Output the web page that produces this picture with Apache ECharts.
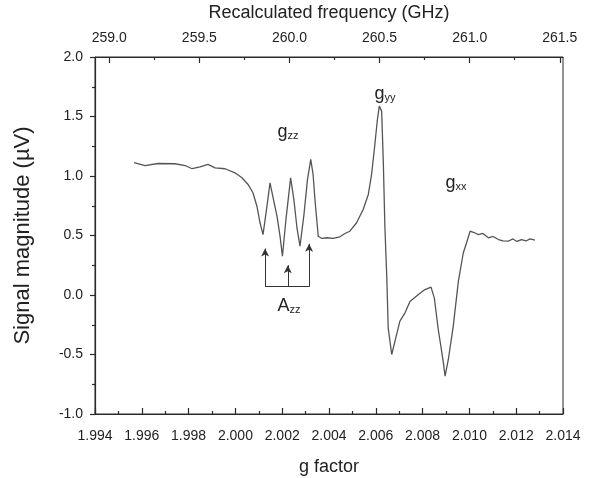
<!DOCTYPE html>
<html><head><meta charset="utf-8">
<script src="https://cdn.jsdelivr.net/npm/echarts@6/dist/echarts.min.js"></script>
<style>html,body{margin:0;padding:0;background:#fff}#c{width:603px;height:478px}</style>
</head><body><div id="c"></div>
<script>
// g factor (x) and signal (µV)
const gFactor = [1.99567,1.99614,1.99669,1.99742,1.99785,1.99815,1.99849,1.99883,1.99913,1.99956,1.99998,2.00028,2.00054,2.00075,2.00092,2.00105,2.00118,2.00133,2.00148,2.00163,2.00178,2.00191,2.00201,2.00216,2.00236,2.0025,2.00263,2.00276,2.00293,2.00308,2.00322,2.00332,2.0034,2.00354,2.0037,2.00391,2.00417,2.00447,2.00468,2.00489,2.00518,2.00546,2.00568,2.00582,2.00596,2.00606,2.00615,2.00625,2.00632,2.00639,2.00647,2.00653,2.00668,2.00682,2.00703,2.00725,2.00746,2.00782,2.0081,2.00836,2.0085,2.00867,2.00889,2.00896,2.0091,2.00931,2.00953,2.00974,2.00988,2.01003,2.0102,2.01038,2.01058,2.01081,2.01101,2.01124,2.01144,2.01166,2.01186,2.01203,2.01223,2.01242,2.01259,2.0128];
const signal = [1.113,1.088,1.105,1.103,1.088,1.061,1.077,1.097,1.069,1.061,1.027,0.985,0.929,0.859,0.746,0.609,0.508,0.72,0.943,0.80,0.66,0.49,0.326,0.634,0.985,0.80,0.567,0.41,0.676,0.97,1.139,1.013,0.80,0.494,0.475,0.481,0.475,0.489,0.517,0.536,0.607,0.718,0.845,1.013,1.265,1.46,1.587,1.545,1.124,0.565,0.145,-0.276,-0.50,-0.388,-0.22,-0.15,-0.055,0.004,0.046,0.066,-0.024,-0.29,-0.57,-0.682,-0.542,-0.262,0.116,0.355,0.439,0.536,0.525,0.508,0.517,0.481,0.492,0.466,0.454,0.452,0.471,0.45,0.466,0.454,0.471,0.462];

// top axis: recalculated frequency (GHz), proportional to g
const freqPerG = 129.85;
const freqTicks = [259.0, 259.5, 260.0, 260.5, 261.0, 261.5];
const freqMinorTicks = [259.25, 259.75, 260.25, 260.75, 261.25];

// A_zz bracket annotation
const azzArrowG = [2.00127, 2.00224, 2.00315];
const azzArrowTip = [0.39, 0.25, 0.43];
const azzBase = 0.07;

// text labels
const labelMain = ['g', 'g', 'g', 'A'];
const labelSub = ['zz', 'yy', 'xx', 'zz'];
const labelG = [2.00225, 2.00639, 2.00943, 2.00229];
const labelV = [1.37, 1.685, 0.937, -0.095];

const FONT = '"Liberation Sans", Arial, Helvetica, sans-serif';
const AX = '#2a2a2a';
const TXT = '#222';

const chart = echarts.init(document.getElementById('c'), null, {renderer: 'canvas'});

const data = gFactor.map((g, i) => [g, signal[i]]);

const markLineData = azzArrowG.map((g, i) => [
  {coord: [g, azzBase], symbol: 'none'},
  {coord: [g, azzArrowTip[i]], symbol: 'arrow'}
]);
markLineData.push([
  {coord: [azzArrowG[0], azzBase], symbol: 'none'},
  {coord: [azzArrowG[2], azzBase], symbol: 'none'}
]);

const markPointData = labelMain.map((m, i) => ({
  coord: [labelG[i], labelV[i]],
  symbol: 'rect', symbolSize: 1,
  itemStyle: {color: 'rgba(0,0,0,0)'},
  label: {show: true, position: 'inside', formatter: '{m|' + m + '}{s|' + labelSub[i] + '}'}
}));

const fmin = 1.994 * freqPerG, fmax = 2.014 * freqPerG;

chart.setOption({
  animation: false,
  backgroundColor: '#fff',
  textStyle: {fontFamily: FONT},
  grid: {left: 95, right: 40, top: 57, bottom: 64, outerBoundsMode: 'none', containLabel: false,
         show: true, borderColor: AX, borderWidth: 1, backgroundColor: 'transparent'},
  xAxis: [
    {
      type: 'value', position: 'bottom', min: 1.994, max: 2.014, interval: 0.002,
      name: 'g factor', nameLocation: 'middle', nameGap: 44,
      nameTextStyle: {fontSize: 18, color: TXT, fontFamily: FONT},
      axisLine: {show: true, onZero: false, lineStyle: {color: AX, width: 1.2}},
      axisTick: {show: true, inside: true, length: 6, lineStyle: {color: AX, width: 1.2}},
      minorTick: {show: true, splitNumber: 2, length: 3, lineStyle: {color: AX, width: 1.2}},
      axisLabel: {fontSize: 14, color: TXT, margin: 15, formatter: v => v.toFixed(3), fontFamily: FONT},
      splitLine: {show: false}
    },
    {
      type: 'value', position: 'top', min: fmin, max: fmax,
      name: 'Recalculated frequency (GHz)', nameLocation: 'middle', nameGap: 35,
      nameTextStyle: {fontSize: 18, color: TXT, fontFamily: FONT},
      axisLine: {show: true, onZero: false, lineStyle: {color: AX, width: 1.2}},
      axisTick: {show: true, inside: true, length: 6, customValues: freqTicks, lineStyle: {color: AX, width: 1.2}},
      axisLabel: {fontSize: 14, color: TXT, margin: 12, customValues: freqTicks, formatter: v => v.toFixed(1), fontFamily: FONT},
      splitLine: {show: false}
    },
    {
      type: 'value', position: 'top', min: fmin, max: fmax,
      axisLine: {show: false, onZero: false},
      axisTick: {show: true, inside: true, length: 3, customValues: freqMinorTicks, lineStyle: {color: AX, width: 1.2}},
      axisLabel: {show: false},
      splitLine: {show: false}
    }
  ],
  yAxis: [
    {
      type: 'value', position: 'left', min: -1, max: 2, interval: 0.5,
      name: 'Signal magnitude (\u00b5V)', nameLocation: 'middle', nameGap: 61,
      nameTextStyle: {fontSize: 22, color: TXT, fontFamily: FONT},
      axisLine: {show: true, onZero: false, lineStyle: {color: AX, width: 1.2}},
      axisTick: {show: true, inside: false, length: 5, lineStyle: {color: AX, width: 1.2}},
      minorTick: {show: true, splitNumber: 2, length: 3, lineStyle: {color: AX, width: 1.2}},
      axisLabel: {fontSize: 14, color: TXT, margin: 12, formatter: v => v.toFixed(1), fontFamily: FONT},
      splitLine: {show: false}
    }
  ],
  series: [{
    type: 'line', xAxisIndex: 0, yAxisIndex: 0, data: data,
    showSymbol: false, symbol: 'none', smooth: false,
    lineStyle: {color: '#555', width: 1.3},
    markLine: {
      silent: true, symbolSize: [6, 8], animation: false,
      lineStyle: {color: '#333', width: 1, type: 'solid'},
      label: {show: false}, emphasis: {disabled: true},
      data: markLineData
    },
    markPoint: {
      silent: true, animation: false,
      label: {
        rich: {
          m: {fontSize: 18, lineHeight: 18, color: TXT, fontFamily: FONT},
          s: {fontSize: 11, lineHeight: 4, verticalAlign: 'bottom', color: TXT, fontFamily: FONT}
        }
      },
      data: markPointData
    }
  }]
});
</script>
</body></html>
